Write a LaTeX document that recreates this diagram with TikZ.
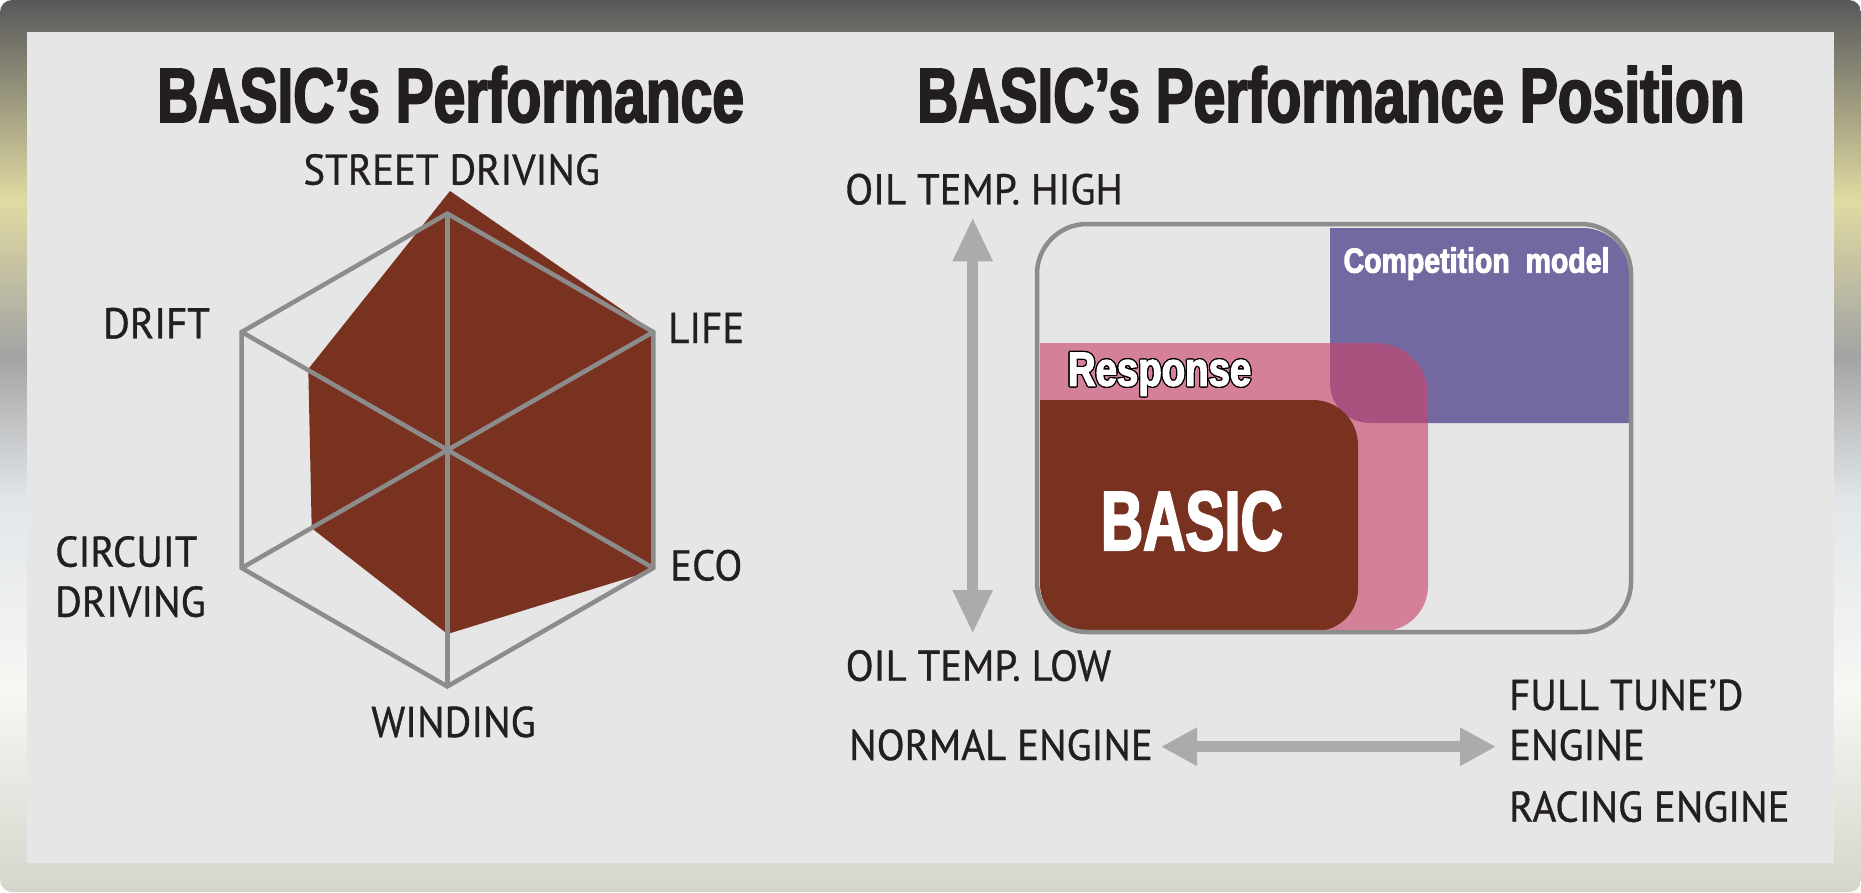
\documentclass[tikz,border=0pt]{standalone}
\usepackage{graphicx}
\usepackage{fontspec}
\setmainfont[FakeStretch=0.95,FakeBold=0.8]{PT Sans}
\newfontfamily\impactfont[FakeStretch=0.74,BoldFeatures={FakeBold=2.5}]{Liberation Sans}
\usepackage{contour}
\contourlength{1.2pt}
\usetikzlibrary{arrows.meta}
\definecolor{fb0}{HTML}{58585A}
\definecolor{fb1}{HTML}{E0DAA2}
\definecolor{fb2}{HTML}{A3A3A3}
\definecolor{fb3}{HTML}{E2E6EA}
\definecolor{fb4}{HTML}{F7F7F3}
\definecolor{fb5}{HTML}{D8D8D0}
\definecolor{fb6}{HTML}{D4D4CC}
\definecolor{panel}{HTML}{E6E6E6}
\definecolor{labeltext}{HTML}{231F20}
\definecolor{brownfill}{HTML}{7A3220}
\definecolor{hexgray}{HTML}{8C8C8C}
\definecolor{purplefill}{HTML}{7369A0}
\definecolor{pinkfill}{RGB}{203,70,109}
\definecolor{arrowgray}{HTML}{ABABAB}
\pgfdeclareverticalshading{frameshade}{100bp}{color(0bp)=(fb6); color(25bp)=(fb6); color(25.8bp)=(fb5); color(36.3bp)=(fb4); color(47bp)=(fb3); color(55.1bp)=(fb2); color(63.8bp)=(fb1); color(75bp)=(fb0); color(100bp)=(fb0)}
\begin{document}
\begin{tikzpicture}[x=1pt,y=-1pt,
  lbl/.style={inner sep=0pt,text=labeltext,font=\fontsize{43}{50}\selectfont},
  ttl/.style={inner sep=0pt,text=labeltext,font=\impactfont\bfseries\fontsize{77}{80}\selectfont},
  hexline/.style={draw=hexgray,line width=4.5pt,line join=miter},
  bigarrow/.style={draw=arrowgray,line width=11.5pt,{Triangle[length=44pt,width=37pt]}-{Triangle[length=44pt,width=37pt]}},
  widearrow/.style={draw=arrowgray,line width=11pt,{Triangle[length=36pt,width=36pt]}-{Triangle[length=36pt,width=36pt]}}]
\useasboundingbox (0,0) rectangle (1861,892);
% frame
\shade[shading=frameshade,rounded corners=12pt] (0,0) rectangle (1861,892);
\fill[panel] (27,32) rectangle (1834,863);
% titles
\node[ttl,anchor=base west] (t1) at (157,122) {BASIC’s Performance};
\node[ttl,anchor=base west] (t2) at (917,122) {BASIC’s Performance Position};
% radar chart
\coordinate (C) at (447.3,450);
\coordinate (V1) at (447.3,213.6);
\coordinate (V2) at (653.3,332);
\coordinate (V3) at (653.3,568);
\coordinate (V4) at (447.3,686.4);
\coordinate (V5) at (241.7,568);
\coordinate (V6) at (241.7,332);
\fill[brownfill] (450,191) -- (652,330.5) -- (651,571) -- (447.5,634) -- (311.7,528.2) -- (308.3,369) -- cycle;
\draw[hexline] (V1) -- (V2) -- (V3) -- (V4) -- (V5) -- (V6) -- cycle;
\draw[hexline] (V1) -- (V4);
\draw[hexline] (V2) -- (V5);
\draw[hexline] (V3) -- (V6);
\node[lbl,anchor=base] (street) at (451.7,184.6) {STREET DRIVING};
\node[lbl,anchor=base west] (life) at (668,343) {LIFE};
\node[lbl,anchor=base west] (eco) at (670,580.4) {ECO};
\node[lbl,anchor=base west] (drift) at (103,338.3) {DRIFT};
\node[lbl,anchor=base west] (circ1) at (55,566.7) {CIRCUIT};
\node[lbl,anchor=base west] (circ2) at (55,616.7) {DRIVING};
\node[lbl,anchor=base] (winding) at (453.5,737) {WINDING};
% position chart
\fill[purplefill] (1330,228) -- (1583,228) arc[start angle=90,end angle=0,radius=46pt] -- (1629,423) -- (1370,423) arc[start angle=270,end angle=180,radius=40pt] -- cycle;
\fill[pinkfill,fill opacity=0.63] (1040,343) -- (1376,343) arc[start angle=90,end angle=0,radius=52pt] -- (1428,586) arc[start angle=0,end angle=-90,radius=45pt] -- (1088,631) arc[start angle=270,end angle=180,radius=48pt] -- cycle;
\fill[brownfill] (1040,400) -- (1313,400) arc[start angle=90,end angle=0,radius=45pt] -- (1358,589) arc[start angle=0,end angle=-90,radius=42pt] -- (1088,631) arc[start angle=270,end angle=180,radius=48pt] -- cycle;
\draw[draw=hexgray,line width=4.5pt,rounded corners=50pt] (1037,224) rectangle (1631,632);
\node[inner sep=0pt,anchor=base west,text=white,font=\impactfont\bfseries\fontsize{35}{36}\selectfont] (comp) at (1343.4,272.7) {\scalebox{1.1}[1]{Competition\ \ model}};
\node[inner sep=0pt,anchor=base west,font=\impactfont\bfseries\fontsize{48}{50}\selectfont] (resp) at (1067.7,385.7) {\contour{black}{\textcolor{white}{\scalebox{1.08}[1]{Response}}}};
\node[inner sep=0pt,anchor=base west,text=white,font=\impactfont\bfseries\fontsize{84}{88}\selectfont] (basic) at (1100.8,550) {\scalebox{0.94}[1]{BASIC}};
\node[lbl,anchor=base west] (high) at (845,204.3) {OIL TEMP. HIGH};
\node[lbl,anchor=base west] (low) at (845.5,680.7) {OIL TEMP. LOW};
\node[lbl,anchor=base west] (normal) at (849,760) {NORMAL ENGINE};
\node[lbl,anchor=base west] (full1) at (1509,710) {FULL TUNE’D};
\node[lbl,anchor=base west] (full2) at (1509,760) {ENGINE};
\node[lbl,anchor=base west] (racing) at (1509,821.7) {RACING ENGINE};
\coordinate (vtop) at (972.7,217.3);
\coordinate (vbot) at (972.7,634);
\coordinate (hleft) at (1161,746.7);
\coordinate (hright) at (1496,746.7);
\draw[bigarrow] (vtop) -- (vbot);
\draw[widearrow] (hleft) -- (hright);
\end{tikzpicture}
\end{document}
